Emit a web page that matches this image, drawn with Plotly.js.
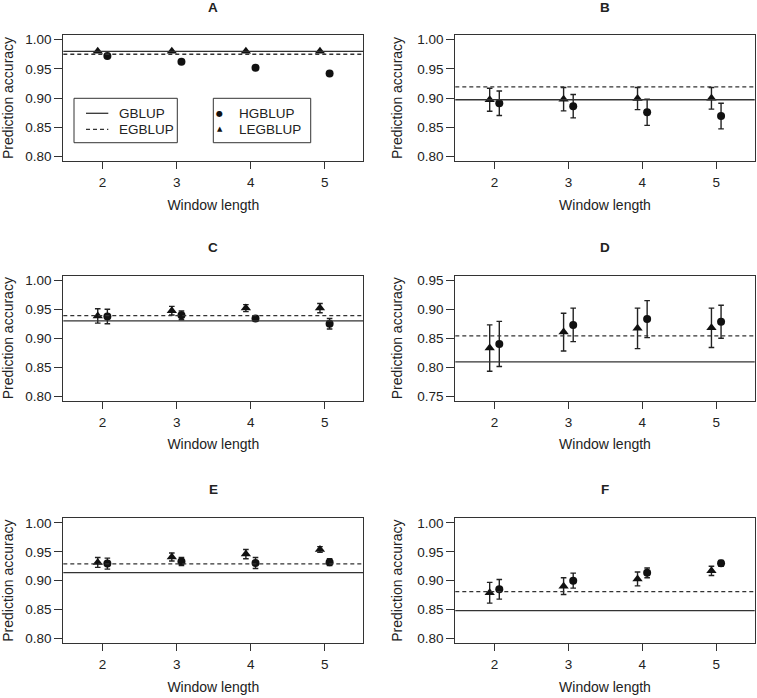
<!DOCTYPE html>
<html>
<head>
<meta charset="utf-8">
<script src="https://cdn.plot.ly/plotly-3.0.1.min.js"></script>
<style>html,body{margin:0;padding:0;background:#fff;}#chart{width:757px;height:698px;}</style>
</head>
<body>
<div id="chart"></div>
<script>
// ---- data ----
const panelLabels = ['A', 'B', 'C', 'D', 'E', 'F'];
const windowLength = [2, 3, 4, 5];
const gblup  = [0.980, 0.897, 0.930, 0.809, 0.914, 0.848];
const egblup = [0.975, 0.919, 0.939, 0.854, 0.929, 0.881];

const hgblupA  = [0.972, 0.962, 0.952, 0.942];
const legblupA = [0.980, 0.980, 0.980, 0.980];

const hgblupB    = [0.891, 0.886, 0.8755, 0.869];
const hgblupSeB  = [0.021, 0.020, 0.0225, 0.022];
const legblupB   = [0.897, 0.898, 0.899, 0.8995];
const legblupSeB = [0.0196, 0.020, 0.019, 0.0185];

const hgblupC    = [0.9375, 0.9395, 0.934, 0.925];
const hgblupSeC  = [0.0125, 0.0075, 0.005, 0.009];
const legblupC   = [0.9385, 0.9475, 0.952, 0.952];
const legblupSeC = [0.0125, 0.0075, 0.006, 0.008];

const hgblupD    = [0.840, 0.873, 0.883, 0.8785];
const hgblupSeD  = [0.039, 0.029, 0.032, 0.0285];
const legblupD   = [0.833, 0.8605, 0.867, 0.868];
const legblupSeD = [0.040, 0.0325, 0.035, 0.034];

const hgblupE    = [0.9295, 0.933, 0.9305, 0.932];
const hgblupSeE  = [0.0095, 0.007, 0.0095, 0.006];
const legblupE   = [0.9315, 0.941, 0.946, 0.954];
const legblupSeE = [0.0085, 0.007, 0.008, 0.005];

const hgblupF    = [0.885, 0.900, 0.9135, 0.930];
const hgblupSeF  = [0.017, 0.013, 0.0085, 0.005];
const legblupF   = [0.879, 0.8905, 0.903, 0.917];
const legblupSeF = [0.018, 0.0145, 0.012, 0.008];

const yTickVals = [0.80, 0.85, 0.90, 0.95, 1.00];
const yTickValsD = [0.75, 0.80, 0.85, 0.90, 0.95];

// ---- build ----
const hg  = [hgblupA, hgblupB, hgblupC, hgblupD, hgblupE, hgblupF];
const hgS = [null, hgblupSeB, hgblupSeC, hgblupSeD, hgblupSeE, hgblupSeF];
const le  = [legblupA, legblupB, legblupC, legblupD, legblupE, legblupF];
const leS = [null, legblupSeB, legblupSeC, legblupSeD, legblupSeE, legblupSeF];

const W = 757, H = 698;
const off = 0.065;
const ink = '#111';
const axisCol = '#333';
const txtCol = '#222';
const FONT = 'Liberation Sans, Arial, Helvetica, sans-serif';

// pixel boxes of the plot regions
const colX = [[63.3, 363.3], [455.3, 754.7]];
const rowY = [[35, 161], [275.7, 400.7], [518.3, 643]];

const traces = [];
const layout = {
  width: W, height: H,
  margin: {l: 0, r: 0, t: 0, b: 0},
  paper_bgcolor: '#fff', plot_bgcolor: '#fff',
  showlegend: false,
  font: {family: FONT, color: txtCol, size: 13},
  shapes: [], annotations: []
};

panelLabels.forEach((lab, i) => {
  const n = i === 0 ? '' : String(i + 1);
  const xa = 'x' + n, ya = 'y' + n;
  const col = i % 2, row = Math.floor(i / 2);
  const xd = [colX[col][0] / W, colX[col][1] / W];
  const yd = [1 - rowY[row][1] / H, 1 - rowY[row][0] / H];
  const ticks = lab === 'D' ? yTickValsD : yTickVals;
  const yr = [ticks[0] - 0.008, ticks[ticks.length - 1] + 0.008];

  layout['xaxis' + n] = {
    domain: xd, anchor: ya, range: [1.47, 5.52],
    tickvals: windowLength, ticks: 'outside', ticklen: 7, tickwidth: 1, tickcolor: axisCol,
    ticklabelstandoff: 2,
    showline: true, mirror: true, linecolor: axisCol, linewidth: 1,
    showgrid: false, zeroline: false, fixedrange: true,
    tickfont: {size: 13.5, color: txtCol, family: FONT},
    title: {text: 'Window length', font: {size: 14, color: txtCol, family: FONT}, standoff: 10},
    automargin: false
  };
  layout['yaxis' + n] = {
    domain: yd, anchor: xa, range: yr,
    tickvals: ticks, tickformat: '.2f', ticks: 'outside', ticklen: 8, tickwidth: 1, tickcolor: axisCol,
    showline: true, mirror: true, linecolor: axisCol, linewidth: 1,
    showgrid: false, zeroline: false, fixedrange: true,
    tickfont: {size: 13.5, color: txtCol, family: FONT},
    title: {text: 'Prediction accuracy', font: {size: 14, color: txtCol, family: FONT}, standoff: 11},
    automargin: false
  };

  // reference lines
  layout.shapes.push({type: 'line', xref: xa + ' domain', yref: ya, x0: 0, x1: 1, y0: gblup[i], y1: gblup[i],
    line: {color: axisCol, width: 1.3}});
  layout.shapes.push({type: 'line', xref: xa + ' domain', yref: ya, x0: 0, x1: 1, y0: egblup[i], y1: egblup[i],
    line: {color: axisCol, width: 1.3, dash: '4px,3px'}});

  const errStyle = (arr) => arr ? {type: 'data', array: arr, visible: true, color: '#222', thickness: 1.4, width: 2.8}
                                : {visible: false};
  traces.push({
    type: 'scatter', mode: 'markers', name: 'LEGBLUP', xaxis: xa, yaxis: ya,
    x: windowLength.map(w => w - off), y: le[i], error_y: errStyle(leS[i]),
    marker: {symbol: 'triangle-up', size: 9, color: ink}, cliponaxis: false
  });
  traces.push({
    type: 'scatter', mode: 'markers', name: 'HGBLUP', xaxis: xa, yaxis: ya,
    x: windowLength.map(w => w + off), y: hg[i], error_y: errStyle(hgS[i]),
    marker: {symbol: 'circle', size: 8, color: ink}, cliponaxis: false
  });

  // panel letter
  const titleY = [7.5, 247.5, 489][row];
  layout.annotations.push({
    text: '<b>' + lab + '</b>', xref: xa + ' domain', x: 0.5, yref: 'paper', y: 1 - titleY / H,
    xanchor: 'center', yanchor: 'middle', showarrow: false,
    font: {size: 13.5, color: txtCol, family: FONT}
  });
});

// legend boxes inside panel A
layout.shapes.push({type: 'rect', xref: 'x domain', yref: 'y domain', x0: 0.0357, x1: 0.38, y0: 0.1452, y1: 0.4976,
  line: {color: axisCol, width: 1}, fillcolor: 'rgba(0,0,0,0)'});
layout.shapes.push({type: 'rect', xref: 'x domain', yref: 'y domain', x0: 0.5, x1: 0.8247, y0: 0.1452, y1: 0.4976,
  line: {color: axisCol, width: 1}, fillcolor: 'rgba(0,0,0,0)'});
layout.shapes.push({type: 'line', xref: 'x domain', yref: 'y domain', x0: 0.0757, x1: 0.15, y0: 0.3786, y1: 0.3786,
  line: {color: axisCol, width: 1.3}});
layout.shapes.push({type: 'line', xref: 'x domain', yref: 'y domain', x0: 0.0757, x1: 0.15, y0: 0.2516, y1: 0.2516,
  line: {color: axisCol, width: 1.3, dash: '4px,3px'}});
const legText = [
  ['GBLUP', 0.178, 0.3786], ['EGBLUP', 0.178, 0.2516],
  ['HGBLUP', 0.578, 0.3786], ['LEGBLUP', 0.578, 0.2516]
];
legText.forEach(([t, x, y]) => layout.annotations.push({
  text: t, xref: 'x domain', yref: 'y domain', x: x, y: y, xanchor: 'left', yanchor: 'middle',
  showarrow: false, font: {size: 13.5, color: txtCol, family: FONT}
}));
layout.annotations.push({text: '●', xref: 'x domain', yref: 'y domain', x: 0.5223, y: 0.3786,
  xanchor: 'center', yanchor: 'middle', showarrow: false, font: {size: 8, color: ink, family: 'DejaVu Sans'}});
layout.annotations.push({text: '▲', xref: 'x domain', yref: 'y domain', x: 0.5223, y: 0.2516,
  xanchor: 'center', yanchor: 'middle', showarrow: false, font: {size: 7, color: ink, family: 'DejaVu Sans'}});

Plotly.newPlot('chart', traces, layout, {staticPlot: true, displayModeBar: false});
</script>
</body>
</html>
